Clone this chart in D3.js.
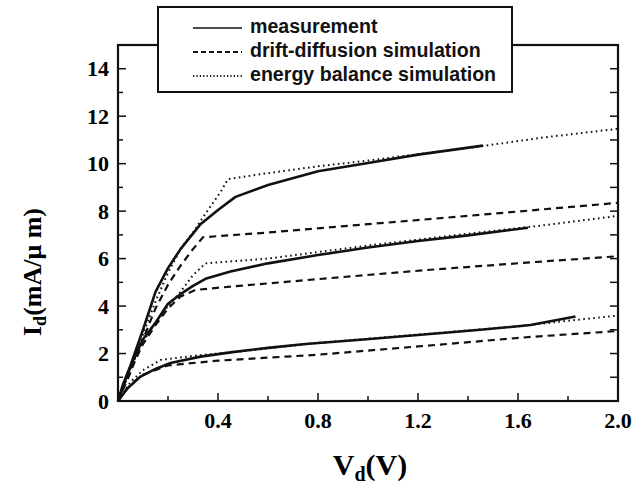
<!DOCTYPE html>
<html>
<head>
<meta charset="utf-8">
<title>Id-Vd</title>
<style>
  body { margin: 0; background: #fff; }
  svg { display: block; }
</style>
</head>
<body>
<div id="chart"></div>
<script src="https://cdn.jsdelivr.net/npm/d3@7"></script>
<script>

// measurement (solid)
var measVd1 = [0, 0.02, 0.05, 0.1, 0.15, 0.2, 0.25, 0.33, 0.4, 0.47, 0.6, 0.8, 1.0, 1.2, 1.46];
var measId1 = [0, 0.7, 1.5, 3.0, 4.6, 5.6, 6.4, 7.45, 8.05, 8.6, 9.1, 9.68, 10.03, 10.38, 10.76];
var measVd2 = [0, 0.03, 0.06, 0.1, 0.15, 0.2, 0.25, 0.3, 0.35, 0.45, 0.6, 0.8, 1.0, 1.2, 1.4, 1.64];
var measId2 = [0, 0.9, 1.7, 2.6, 3.3, 4.1, 4.5, 4.85, 5.15, 5.46, 5.8, 6.15, 6.47, 6.74, 6.98, 7.3];
var measVd3 = [0, 0.035, 0.09, 0.15, 0.21, 0.33, 0.45, 0.6, 0.75, 0.97, 1.2, 1.45, 1.65, 1.83];
var measId3 = [0, 0.5, 1.03, 1.35, 1.6, 1.87, 2.05, 2.24, 2.4, 2.58, 2.78, 3.0, 3.2, 3.56];

// drift-diffusion simulation (dashed)
var ddVd1 = [0, 0.05, 0.1, 0.15, 0.2, 0.25, 0.3, 0.34, 0.6, 1.0, 1.4, 2.0];
var ddId1 = [0, 1.2, 2.6, 3.9, 4.9, 5.7, 6.4, 6.9, 7.1, 7.45, 7.8, 8.35];
var ddVd2 = [0, 0.05, 0.1, 0.15, 0.2, 0.25, 0.31, 0.45, 0.85, 1.25, 1.66, 2.0];
var ddId2 = [0, 1.3, 2.4, 3.2, 3.9, 4.4, 4.68, 4.82, 5.18, 5.53, 5.85, 6.1];
var ddVd3 = [0, 0.05, 0.1, 0.2, 0.4, 0.8, 1.2, 1.65, 2.0];
var ddId3 = [0, 0.7, 1.1, 1.5, 1.7, 1.95, 2.3, 2.7, 2.95];

// energy balance simulation (dotted)
var ebVd1 = [0, 0.05, 0.1, 0.15, 0.2, 0.25, 0.3, 0.35, 0.41, 0.44, 0.6, 0.8, 1.0, 1.2, 1.47, 1.7, 2.0];
var ebId1 = [0, 1.3, 2.8, 4.2, 5.4, 6.4, 7.1, 7.9, 8.8, 9.35, 9.6, 9.89, 10.13, 10.4, 10.76, 11.1, 11.47];
var ebVd2 = [0, 0.05, 0.1, 0.15, 0.2, 0.25, 0.3, 0.35, 0.6, 1.0, 1.4, 1.7, 2.0];
var ebId2 = [0, 1.4, 2.5, 3.3, 4.0, 4.6, 5.3, 5.8, 6.0, 6.55, 7.05, 7.4, 7.8];
var ebVd3 = [0, 0.05, 0.1, 0.17, 0.3, 0.5, 0.8, 1.2, 1.6, 1.8, 2.0];
var ebId3 = [0, 0.8, 1.3, 1.73, 1.9, 2.1, 2.45, 2.8, 3.15, 3.38, 3.6];

var xTicks = [0.4, 0.8, 1.2, 1.6, 2.0];
var yTicks = [0, 2, 4, 6, 8, 10, 12, 14];
var legendLabels = ["measurement", "drift-diffusion simulation", "energy balance simulation"];

var width = 636, height = 486;
var svg = d3.select("#chart").append("svg")
    .attr("width", width)
    .attr("height", height);

var x = d3.scaleLinear().domain([0, 2.0]).range([118, 618]);
var y = d3.scaleLinear().domain([0, 15]).range([401, 45]);

function zip(vs, is) {
    return vs.map(function(v, i) { return [v, is[i]]; });
}

var line = d3.line()
    .x(function(d) { return x(d[0]); })
    .y(function(d) { return y(d[1]); });

var styles = [
    { width: 2.6, dash: null },
    { width: 2.2, dash: "7,5" },
    { width: 2, dash: "1.6,3.4" }
];

var curves = [
    { s: 0, d: zip(measVd1, measId1) },
    { s: 0, d: zip(measVd2, measId2) },
    { s: 0, d: zip(measVd3, measId3) },
    { s: 1, d: zip(ddVd1, ddId1) },
    { s: 1, d: zip(ddVd2, ddId2) },
    { s: 1, d: zip(ddVd3, ddId3) },
    { s: 2, d: zip(ebVd1, ebId1) },
    { s: 2, d: zip(ebVd2, ebId2) },
    { s: 2, d: zip(ebVd3, ebId3) }
];

svg.append("g")
    .selectAll("path")
    .data(curves)
    .enter().append("path")
    .attr("d", function(c) { return line(c.d); })
    .attr("fill", "none")
    .attr("stroke", "#111")
    .attr("stroke-width", function(c) { return styles[c.s].width; })
    .attr("stroke-dasharray", function(c) { return styles[c.s].dash; })
    .attr("stroke-linejoin", "round");

// axes, ticks pointing inward
var axes = svg.append("g").attr("stroke", "#111");

var xMinor = d3.range(0.2, 2.0, 0.2);
axes.selectAll("line.xt")
    .data(xMinor)
    .enter().append("line")
    .attr("x1", function(d) { return x(d); })
    .attr("x2", function(d) { return x(d); })
    .attr("y1", y(0))
    .attr("y2", function(d, i) { return y(0) - (i % 2 === 1 ? 8 : 5); })
    .attr("stroke-width", 1.5);

var yAll = d3.range(1, 15, 1);
axes.selectAll("line.yl")
    .data(yAll)
    .enter().append("line")
    .attr("x1", x(0))
    .attr("x2", function(d) { return x(0) + (d % 2 === 0 ? 8 : 5); })
    .attr("y1", function(d) { return y(d); })
    .attr("y2", function(d) { return y(d); })
    .attr("stroke-width", 1.5);

axes.selectAll("line.yr")
    .data(yAll)
    .enter().append("line")
    .attr("x1", x(2.0))
    .attr("x2", x(2.0) - 8)
    .attr("y1", function(d) { return y(d); })
    .attr("y2", function(d) { return y(d); })
    .attr("stroke-width", 1.5);

axes.append("rect")
    .attr("x", x(0))
    .attr("y", y(15))
    .attr("width", x(2.0) - x(0))
    .attr("height", y(0) - y(15))
    .attr("fill", "none")
    .attr("stroke-width", 2.2);

var serif = "'Liberation Serif', 'DejaVu Serif', serif";

svg.append("g")
    .selectAll("text")
    .data(xTicks)
    .enter().append("text")
    .attr("x", function(d) { return x(d); })
    .attr("y", 428)
    .attr("text-anchor", "middle")
    .attr("font-family", serif)
    .attr("font-weight", "bold")
    .attr("font-size", 22)
    .text(function(d) { return d3.format(".1f")(d); });

svg.append("g")
    .selectAll("text")
    .data(yTicks)
    .enter().append("text")
    .attr("x", 109)
    .attr("y", function(d) { return y(d); })
    .attr("dy", "0.35em")
    .attr("text-anchor", "end")
    .attr("font-family", serif)
    .attr("font-weight", "bold")
    .attr("font-size", 22)
    .text(function(d) { return d; });

// axis titles
var xt = svg.append("text")
    .attr("x", 370)
    .attr("y", 475)
    .attr("text-anchor", "middle")
    .attr("font-family", serif)
    .attr("font-weight", "bold")
    .attr("font-size", 30);
xt.append("tspan").text("V");
xt.append("tspan").attr("font-size", 20).attr("dy", 6).text("d");
xt.append("tspan").attr("dy", -6).text("(V)");

var yt = svg.append("text")
    .attr("transform", "translate(41,272) rotate(-90)")
    .attr("text-anchor", "middle")
    .attr("font-family", serif)
    .attr("font-weight", "bold")
    .attr("font-size", 26);
yt.append("tspan").text("I");
yt.append("tspan").attr("font-size", 18).attr("dy", 5).text("d");
yt.append("tspan").attr("dy", -5).text("(mA/\u03bc m)");

// legend
var lg = svg.append("g");
lg.append("rect")
    .attr("x", 158)
    .attr("y", 7)
    .attr("width", 354)
    .attr("height", 85)
    .attr("fill", "#fff")
    .attr("stroke", "#111")
    .attr("stroke-width", 2);

var rows = lg.selectAll("g.row")
    .data(legendLabels)
    .enter().append("g")
    .attr("transform", function(d, i) { return "translate(0," + (28 + i * 24) + ")"; });

rows.append("line")
    .attr("x1", 193)
    .attr("x2", 242)
    .attr("y1", 0)
    .attr("y2", 0)
    .attr("stroke", "#111")
    .attr("stroke-width", function(d, i) { return i === 0 ? 1.6 : 1.8; })
    .attr("stroke-dasharray", function(d, i) { return i === 0 ? null : (i === 1 ? "5,3" : "1.2,2.2"); });

rows.append("text")
    .attr("x", 250)
    .attr("y", 5)
    .attr("font-family", "'Liberation Sans', Arial, sans-serif")
    .attr("font-weight", "bold")
    .attr("font-size", 19.6)
    .attr("fill", "#111")
    .text(function(d) { return d; });

</script>
</body>
</html>
